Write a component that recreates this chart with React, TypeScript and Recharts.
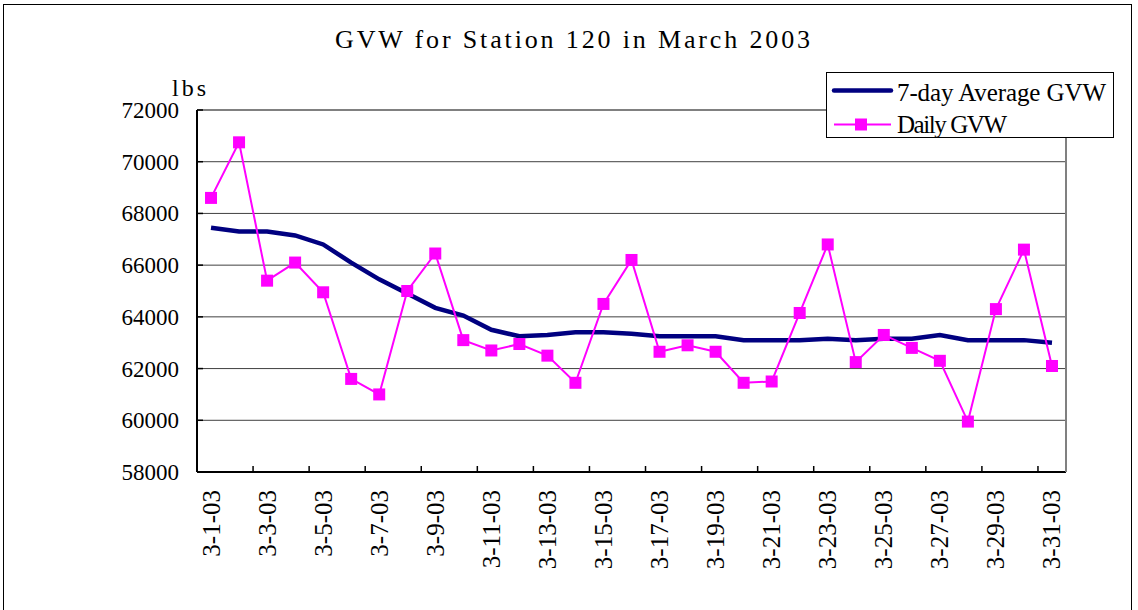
import React from 'react';
import { LineChart, Line, XAxis, YAxis, CartesianGrid, Legend, ReferenceLine } from 'recharts';

const dates = [
  '3-1-03', '3-2-03', '3-3-03', '3-4-03', '3-5-03', '3-6-03', '3-7-03', '3-8-03',
  '3-9-03', '3-10-03', '3-11-03', '3-12-03', '3-13-03', '3-14-03', '3-15-03', '3-16-03',
  '3-17-03', '3-18-03', '3-19-03', '3-20-03', '3-21-03', '3-22-03', '3-23-03', '3-24-03',
  '3-25-03', '3-26-03', '3-27-03', '3-28-03', '3-29-03', '3-30-03', '3-31-03',
];

const dailyGVW = [
  68600, 70750, 65400, 66100, 64950, 61600, 61000, 65000, 66450, 63100, 62700,
  62950, 62500, 61450, 64500, 66200, 62650, 62900, 62650, 61450, 61500, 64150,
  66800, 62250, 63300, 62800, 62300, 59950, 64300, 66600, 62100,
];

const avgGVW = [
  67450, 67300, 67300, 67150, 66800, 66100, 65450, 64900, 64350, 64050, 63500,
  63250, 63300, 63400, 63400, 63350, 63250, 63250, 63250, 63100, 63100, 63100,
  63150, 63100, 63150, 63150, 63300, 63100, 63100, 63100, 63000,
];

const yTicks = [58000, 60000, 62000, 64000, 66000, 68000, 70000, 72000];

const TITLE = 'GVW for Station 120 in March 2003';
const UNIT = 'lbs';
const SERIES_AVG = '7-day Average GVW';
const SERIES_DAILY = 'Daily GVW';

const data = dates.map((d, i) => ({ date: d, daily: dailyGVW[i], avg: avgGVW[i] }));

const W = 1138;
const H = 610;
const M = { top: 110, right: 71, bottom: 8, left: 97 };
const Y_AXIS_W = 100;
const X_AXIS_H = 130;
const PLOT_W = W - M.left - Y_AXIS_W - M.right - 1;
const BAND = PLOT_W / dates.length;
const GAP = 18;
const TICK_LEN = 6;

const NAVY = '#000080';
const MAGENTA = '#FF00FF';
const SERIF = '"Liberation Serif", serif';

const YTick = (props: any) => {
  const { x, y, payload } = props;
  return (
    <g>
      <line x1={x + GAP} x2={x + GAP + TICK_LEN} y1={y} y2={y} stroke="#000" strokeWidth={1.5} />
      <text x={x} y={y} dy="0.35em" textAnchor="end" fontFamily={SERIF} fontSize={23} fill="#000">
        {payload.value}
      </text>
    </g>
  );
};

const XTick = (props: any) => {
  const { x, y, payload, index } = props;
  if (index % 2 === 1) {
    const tx = x + BAND / 2;
    return (
      <line x1={tx} x2={tx} y1={y - GAP} y2={y - GAP - TICK_LEN} stroke="#000" strokeWidth={1.5} />
    );
  }
  return (
    <text
      x={x}
      y={y}
      transform={`rotate(-90, ${x}, ${y})`}
      textAnchor="end"
      dominantBaseline="central"
      fontFamily={SERIF}
      fontSize={25}
      fill="#000"
    >
      {payload.value}
    </text>
  );
};

const SquareDot = (props: any) => {
  const { cx, cy } = props;
  if (cx == null || cy == null) return null;
  return <rect x={cx - 6} y={cy - 6} width={12} height={12} fill={MAGENTA} />;
};

const LegendBox = () => (
  <div
    style={{
      position: 'relative',
      width: 286,
      height: 64,
      border: '1px solid #000',
      background: '#fff',
      boxSizing: 'content-box',
    }}
  >
    <svg width={286} height={64} style={{ position: 'absolute', left: 0, top: 0 }}>
      <line x1={7} x2={64} y1={17.5} y2={17.5} stroke={NAVY} strokeWidth={4.5} strokeLinecap="round" />
      <line x1={7} x2={64} y1={51.5} y2={51.5} stroke={MAGENTA} strokeWidth={2} />
      <rect x={28} y={45.5} width={12} height={12} fill={MAGENTA} />
      <text x={70} y={27.5} fontFamily={SERIF} fontSize={25} fill="#000" textLength={209} lengthAdjust="spacing">
        {SERIES_AVG}
      </text>
      <text x={70} y={59.5} fontFamily={SERIF} fontSize={25} fill="#000" textLength={110} lengthAdjust="spacing">
        {SERIES_DAILY}
      </text>
    </svg>
  </div>
);

export default function App() {
  return (
    <div style={{ position: 'absolute', left: 0, top: 0, width: W, height: H, background: '#fff', overflow: 'hidden' }}>
      <div
        style={{
          position: 'absolute',
          left: 3,
          top: 4,
          width: 1129,
          height: 610,
          border: '1.5px solid #000',
          borderBottom: 'none',
          boxSizing: 'border-box',
        }}
      />
      <div style={{ position: 'absolute', left: 0, top: 0 }}>
        <LineChart width={W} height={H} data={data} margin={M}>
          <CartesianGrid horizontal vertical={false} stroke="#404040" strokeWidth={1} />
          <XAxis
            dataKey="date"
            interval={0}
            height={X_AXIS_H}
            padding={{ left: BAND / 2, right: BAND / 2 }}
            tickSize={0}
            tickMargin={GAP}
            tick={<XTick />}
            axisLine={{ stroke: '#000', strokeWidth: 2 }}
            tickLine={false}
          />
          <YAxis
            width={Y_AXIS_W}
            domain={[58000, 72000]}
            ticks={yTicks}
            interval={0}
            tickSize={0}
            tickMargin={GAP}
            tick={<YTick />}
            axisLine={{ stroke: '#000', strokeWidth: 2 }}
            tickLine={false}
            allowDataOverflow
          />
          <YAxis
            yAxisId="r"
            orientation="right"
            width={1}
            domain={[58000, 72000]}
            ticks={yTicks}
            tick={false}
            tickLine={false}
            axisLine={{ stroke: '#808080', strokeWidth: 2 }}
          />
          <ReferenceLine y={72000} stroke="#808080" strokeWidth={2} />
          <Legend
            layout="horizontal"
            verticalAlign="middle"
            align="center"
            wrapperStyle={{ left: 826, top: 72, width: 288, height: 66 }}
            content={() => <LegendBox />}
          />
          <Line
            type="linear"
            dataKey="avg"
            name={SERIES_AVG}
            stroke={NAVY}
            strokeWidth={4.5}
            dot={false}
            activeDot={false}
            isAnimationActive={false}
          />
          <Line
            type="linear"
            dataKey="daily"
            name={SERIES_DAILY}
            stroke={MAGENTA}
            strokeWidth={2}
            dot={<SquareDot />}
            activeDot={false}
            isAnimationActive={false}
          />
        </LineChart>
      </div>
      <svg width={W} height={H} style={{ position: 'absolute', left: 0, top: 0, pointerEvents: 'none' }}>
        <text x={335} y={48} fontFamily={SERIF} fontSize={26} fill="#000" textLength={475} lengthAdjust="spacing">
          {TITLE}
        </text>
        <text x={172} y={96} fontFamily={SERIF} fontSize={24} fill="#000" textLength={34} lengthAdjust="spacing">
          {UNIT}
        </text>
      </svg>
    </div>
  );
}
